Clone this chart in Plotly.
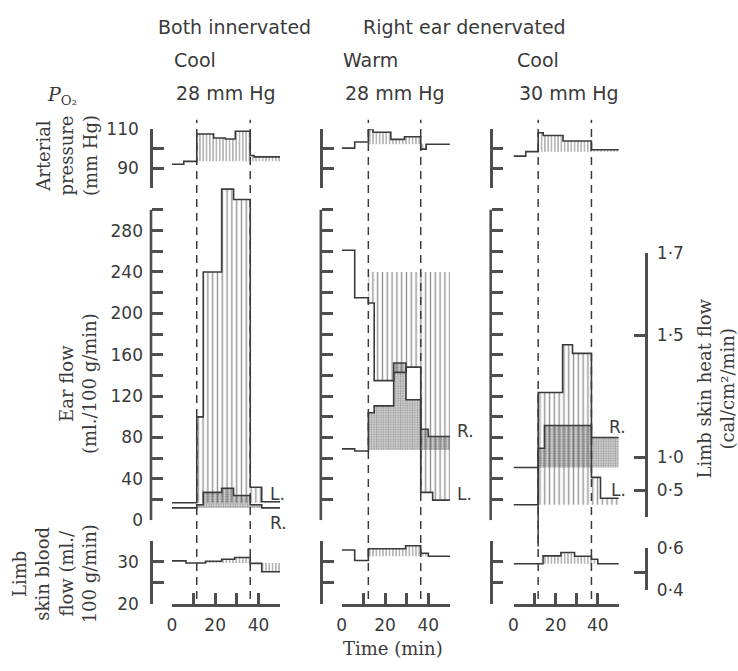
import plotly.graph_objects as go

# ---------------- data ----------------
TIME_TICKS = [0, 10, 20, 30, 40, 50]
TIME_TICK_LABELS = ['0', '', '20', '', '40', '']

ART_TICKS = [80, 90, 100, 110]
ART_TICK_LABELS = ['', '90', '', '110']
EAR_TICKS = [0, 20, 40, 60, 80, 100, 120, 140, 160, 180, 200, 220, 240, 260, 280, 300]
EAR_TICK_LABELS = ['0', '', '40', '', '80', '', '120', '', '160', '', '200', '', '240', '', '280', '']
LIMB_TICKS = [20, 25, 30, 35]
LIMB_TICK_LABELS = ['20', '', '30', '']

# right-hand heat-flow scale (non-linear), given as the equivalent values on the left scales
HEAT_TICK_LABELS = ['1·7', '1·5', '1·0', '0·5', '']
HEAT_TICK_EAR_EQUIV = [259, 179, 61, 29, 2.8]
HEAT_LIMB_TICK_LABELS = ['0·6', '', '0·4']
HEAT_LIMB_TICK_EQUIV = [33.2, 27.4, 23.2]

CONDITION_GROUPS = ['Both innervated', 'Right ear denervated']
TEMPERATURES = ['Cool', 'Warm', 'Cool']
PO2_VALUES = ['28 mm Hg', '28 mm Hg', '30 mm Hg']
HYPOXIA = [(11.5, 36.2), (12.3, 36.5), (11.7, 37.0)]

# Panel 1 : both innervated, cool
P1_ART_T = [0, 5.5, 11.5, 19.3, 24.7, 29.3, 36.2, 38, 50]
P1_ART_V = [92, 93.5, 107.6, 105.5, 105, 109, 96.5, 95.8]
P1_ART_BASE = 93.5
P1_EAR_L_T = [0, 11.5, 14.5, 23, 28.5, 36.2, 41.5, 50]
P1_EAR_L_V = [17, 100, 240, 320, 310, 32, 18]
P1_EAR_L_BASE = 17
P1_EAR_R_T = [0, 11.5, 14.5, 23, 28.5, 36.2, 41.5, 50]
P1_EAR_R_V = [12, 15, 27, 31, 24, 15, 12]
P1_EAR_R_BASE = 12
P1_LIMB_T = [0, 6.5, 15.5, 23, 29, 36.2, 41.5, 50]
P1_LIMB_V = [30.2, 29.7, 30.1, 30.6, 31.0, 29.6, 27.6]
P1_LIMB_BASE = 29.7

# Panel 2 : right ear denervated, warm
P2_ART_T = [0, 6, 12.3, 14.5, 22.7, 29, 36.5, 39, 50]
P2_ART_V = [100.3, 103.5, 110, 108.5, 104.8, 106.2, 99.8, 102.3]
P2_ART_BASE = 102.3
P2_EAR_L_T = [0, 6, 12.3, 15, 24, 29.7, 36.5, 42, 50]
P2_EAR_L_V = [261, 215, 210, 135, 143, 148, 27, 19.5]
P2_EAR_L_BASE = 240
P2_EAR_R_T = [0, 6, 12.3, 15, 24, 29.7, 36.5, 40, 50]
P2_EAR_R_V = [69, 67, 104, 110.6, 152, 116.5, 88, 81]
P2_EAR_R_BASE = 68
P2_LIMB_T = [0, 6, 12.3, 29.5, 36.5, 40, 50]
P2_LIMB_V = [32.8, 30.3, 33.1, 33.8, 32.0, 31.3]
P2_LIMB_BASE = 31.3

# Panel 3 : right ear denervated, cool
P3_ART_T = [0, 5.8, 11.7, 14.1, 23.5, 37, 50]
P3_ART_V = [96.2, 98.5, 108.2, 106.8, 104, 99.5]
P3_ART_BASE = 98.5
P3_EAR_L_T = [0, 11.7, 23.3, 28, 37, 41.3, 50]
P3_EAR_L_V = [15, 123.5, 169.7, 161.3, 41.5, 21.3]
P3_EAR_L_BASE = 15
P3_EAR_R_T = [0, 11.7, 14.7, 37, 50]
P3_EAR_R_V = [51, 69.7, 91.6, 80]
P3_EAR_R_BASE = 51
P3_LIMB_T = [0, 14, 22.5, 29, 37, 40, 50]
P3_LIMB_V = [29.5, 31.4, 32.2, 31.3, 30.6, 29.5]
P3_LIMB_BASE = 29.5

# label anchor (time, ear flow) and pixel shift for the 'L.' / 'R.' tags
PANELS = [
    dict(art=(P1_ART_T, P1_ART_V, P1_ART_BASE), L=(P1_EAR_L_T, P1_EAR_L_V, P1_EAR_L_BASE),
         R=(P1_EAR_R_T, P1_EAR_R_V, P1_EAR_R_BASE), limb=(P1_LIMB_T, P1_LIMB_V, P1_LIMB_BASE),
         lab_L=(44.5, 25, 0, 0), lab_R=(44.5, 0, 0, -3)),
    dict(art=(P2_ART_T, P2_ART_V, P2_ART_BASE), L=(P2_EAR_L_T, P2_EAR_L_V, P2_EAR_L_BASE),
         R=(P2_EAR_R_T, P2_EAR_R_V, P2_EAR_R_BASE), limb=(P2_LIMB_T, P2_LIMB_V, P2_LIMB_BASE),
         lab_L=(50, 25, 5, 0), lab_R=(50, 86, 5, 0)),
    dict(art=(P3_ART_T, P3_ART_V, P3_ART_BASE), L=(P3_EAR_L_T, P3_EAR_L_V, P3_EAR_L_BASE),
         R=(P3_EAR_R_T, P3_EAR_R_V, P3_EAR_R_BASE), limb=(P3_LIMB_T, P3_LIMB_V, P3_LIMB_BASE),
         lab_L=(45.5, 29, 0, 0), lab_R=(44.5, 90, 0, 0)),
]

# ---------------- layout geometry (pixels) ----------------
W, H = 738, 671
X_DOM_PX = [(168, 277), (339, 448), (512, 618)]
SPINE_PX = [147, 318, 489]
ART_PX = (183, 123)      # 80 .. 110
EAR_PX = (526, 174)      # 0 .. 330 (axis drawn 0..300)
EAR_RANGE = (0, 330)
LIMB_PX = (612, 547)     # 20 .. 35
HEAT_PX = (523, 250)
HEAT_LIMB_PX = (598, 555)
RIGHT_SPINE_PX = 645


def fx(p):
    return p / W


def fy(p):
    return 1 - p / H


def ear_px(v):
    return EAR_PX[0] - (v - EAR_RANGE[0]) * (EAR_PX[0] - EAR_PX[1]) / (EAR_RANGE[1] - EAR_RANGE[0])


INK = '#3a3a3a'
AXC = '#4e4e4e'
LW = 2.6
SANS = 'DejaVu Sans'
SERIF = 'DejaVu Serif'

HATCH_FINE = dict(shape='|', size=3.3, solidity=0.36, fgcolor='#333333')
HATCH_EAR = dict(shape='|', size=4.8, solidity=0.3, fgcolor='#2e2e2e')
STIPPLE = dict(shape='.', size=2.4, solidity=0.45, fgcolor='#5f5f5f', bgcolor='#d6d6d6')


def step_full(T, V):
    return list(T), list(V) + [V[-1]]


def step_from(T, V, ts):
    xs, ys = [ts], []
    start = len(V)
    for k in range(len(V)):
        if T[k] <= ts < T[k + 1]:
            ys.append(V[k])
            start = k + 1
            break
    for k in range(start, len(V)):
        xs.append(T[k])
        ys.append(V[k])
    xs.append(T[-1])
    ys.append(V[-1])
    return xs, ys


fig = go.Figure()


def yid(k):
    return 'y' if k == 1 else 'y%d' % k


def xid(k):
    return 'x' if k == 1 else 'x%d' % k


def add_fill(xa, ya, series, ts, pattern):
    T, V, base = series
    xs, ys = step_from(T, V, ts)
    fig.add_trace(go.Scatter(x=[xs[0], xs[-1]], y=[base, base], mode='lines',
                             line=dict(width=0), xaxis=xa, yaxis=ya,
                             hoverinfo='skip', showlegend=False))
    fig.add_trace(go.Scatter(x=xs, y=ys, mode='lines', line=dict(width=0, shape='hv'),
                             fill='tonexty', fillcolor='rgba(0,0,0,0)', fillpattern=pattern,
                             xaxis=xa, yaxis=ya, hoverinfo='skip', showlegend=False))


def add_line(xa, ya, series):
    T, V, base = series
    xs, ys = step_full(T, V)
    fig.add_trace(go.Scatter(x=xs, y=ys, mode='lines', line=dict(color=INK, width=1.6, shape='hv'),
                             xaxis=xa, yaxis=ya, hoverinfo='skip', showlegend=False))


layout = dict(width=W, height=H, margin=dict(l=0, r=0, t=0, b=0), autosize=False,
              paper_bgcolor='white', plot_bgcolor='rgba(0,0,0,0)', showlegend=False)

axis_common = dict(showline=True, linewidth=LW, linecolor=AXC, ticks='inside', ticklen=11,
                   tickwidth=LW, tickcolor=AXC, showgrid=False, zeroline=False,
                   tickfont=dict(family=SANS, size=17, color=INK), tickmode='array',
                   fixedrange=True)

shapes = []
annotations = []

for i, P in enumerate(PANELS):
    xk = i + 1
    xa = xid(xk)
    k_art, k_ear, k_limb = 3 * i + 1, 3 * i + 2, 3 * i + 3
    lab = (i == 0)
    layout['xaxis' if xk == 1 else 'xaxis%d' % xk] = dict(
        axis_common, domain=[fx(X_DOM_PX[i][0]), fx(X_DOM_PX[i][1])], range=[0, 50],
        anchor=yid(k_limb), tickvals=TIME_TICKS, ticktext=TIME_TICK_LABELS, ticklabelstandoff=4)
    pos = fx(SPINE_PX[i])
    layout['yaxis' if k_art == 1 else 'yaxis%d' % k_art] = dict(
        axis_common, anchor='free', position=pos, side='left',
        domain=[fy(ART_PX[0]), fy(ART_PX[1])], range=[80, 110],
        tickvals=ART_TICKS, ticktext=ART_TICK_LABELS if lab else [''] * 4, ticklabelstandoff=8)
    layout['yaxis%d' % k_ear] = dict(
        axis_common, showline=False, anchor='free', position=pos, side='left',
        domain=[fy(EAR_PX[0]), fy(EAR_PX[1])], range=list(EAR_RANGE),
        tickvals=EAR_TICKS, ticktext=EAR_TICK_LABELS if lab else [''] * len(EAR_TICKS),
        ticklabelstandoff=8)
    layout['yaxis%d' % k_limb] = dict(
        axis_common, anchor='free', position=pos, side='left',
        domain=[fy(LIMB_PX[0]), fy(LIMB_PX[1])], range=[20, 35],
        tickvals=LIMB_TICKS, ticktext=LIMB_TICK_LABELS if lab else [''] * 4, ticklabelstandoff=8)
    # ear-flow spine (axis line only over 0..300)
    shapes.append(dict(type='line', xref='paper', x0=pos, x1=pos, yref=yid(k_ear),
                       y0=EAR_TICKS[0], y1=EAR_TICKS[-1], line=dict(color=AXC, width=LW)))

    ts, te = HYPOXIA[i]
    # arterial pressure
    add_fill(xa, yid(k_art), P['art'], ts, HATCH_FINE)
    add_line(xa, yid(k_art), P['art'])
    # ear flow
    add_fill(xa, yid(k_ear), P['R'], ts, STIPPLE)
    add_fill(xa, yid(k_ear), P['L'], ts, HATCH_EAR)
    add_line(xa, yid(k_ear), P['L'])
    add_line(xa, yid(k_ear), P['R'])
    # limb skin blood flow
    add_fill(xa, yid(k_limb), P['limb'], ts, HATCH_FINE)
    add_line(xa, yid(k_limb), P['limb'])

    for t in (ts, te):
        shapes.append(dict(type='line', xref=xa, x0=t, x1=t, yref='paper',
                           y0=fy(607), y1=fy(113), line=dict(color=INK, width=1.5, dash='8px,6px')))

    for name, key in (('L.', 'lab_L'), ('R.', 'lab_R')):
        tx, ty, dx, dy = P[key]
        annotations.append(dict(text=name, xref=xa, yref=yid(k_ear), x=tx, y=ty,
                                xshift=dx, yshift=dy,
                                xanchor='left', yanchor='middle', showarrow=False,
                                font=dict(family=SANS, size=17, color=INK)))

# panel 3: onset line drawn solid from the right-ear control level down to the limb panel
ts3 = HYPOXIA[2][0]
shapes.append(dict(type='line', xref='x3', x0=ts3, x1=ts3, yref='paper',
                   y0=fy(ear_px(P3_EAR_R_BASE)), y1=fy(LIMB_PX[1] + 6),
                   line=dict(color=INK, width=1.5)))

# right-hand heat flow axes (panel 3)
layout['yaxis10'] = dict(axis_common, anchor='free', position=fx(RIGHT_SPINE_PX), side='right',
                         domain=[fy(HEAT_PX[0]), fy(HEAT_PX[1])],
                         range=[HEAT_TICK_EAR_EQUIV[-1], HEAT_TICK_EAR_EQUIV[0]],
                         tickvals=HEAT_TICK_EAR_EQUIV, ticktext=HEAT_TICK_LABELS, ticklabelstandoff=6)
layout['yaxis11'] = dict(axis_common, anchor='free', position=fx(RIGHT_SPINE_PX), side='right',
                         domain=[fy(HEAT_LIMB_PX[0]), fy(HEAT_LIMB_PX[1])],
                         range=[HEAT_LIMB_TICK_EQUIV[-1], HEAT_LIMB_TICK_EQUIV[0]],
                         tickvals=HEAT_LIMB_TICK_EQUIV, ticktext=HEAT_LIMB_TICK_LABELS,
                         ticklabelstandoff=6)
for ya, yv in (('y10', 100), ('y11', 28)):
    fig.add_trace(go.Scatter(x=[25], y=[yv], mode='markers', marker=dict(opacity=0),
                             xaxis='x3', yaxis=ya, hoverinfo='skip', showlegend=False))

# headers
hdr_font = dict(family=SANS, size=19, color=INK)
hdr = [
    dict(text=CONDITION_GROUPS[0], x=fx(231), y=fy(18), xanchor='center'),
    dict(text=CONDITION_GROUPS[1], x=fx(463), y=fy(18), xanchor='center'),
]
for i, x0 in enumerate((168, 338, 513)):
    hdr.append(dict(text=TEMPERATURES[i], x=fx(x0), y=fy(52), xanchor='left'))
    hdr.append(dict(text=PO2_VALUES[i], x=fx(x0 + 2), y=fy(86), xanchor='left'))
for a in hdr:
    a.update(xref='paper', yref='paper', yanchor='middle', showarrow=False, font=hdr_font)
annotations += hdr

serif = dict(family=SERIF, size=18, color=INK)
lbl = [
    dict(text='<i>P</i><sub>O₂</sub>', x=fx(40), y=fy(88), xanchor='left',
         font=dict(family=SERIF, size=19, color=INK)),
    dict(text='Arterial<br>pressure<br>(mm Hg)', x=fx(62), y=fy(150), textangle=-90, font=serif),
    dict(text='Ear flow<br>(ml./100 g/min)', x=fx(73), y=fy(385), textangle=-90, font=serif),
    dict(text='Limb<br>skin blood<br>flow (ml./<br>100 g/min)', x=fx(50), y=fy(581),
         textangle=-90, font=serif),
    dict(text='Time (min)', x=fx(391), y=fy(658), font=serif),
    dict(text='Limb skin heat flow<br>(cal/cm²/min)', x=fx(716), y=fy(390), textangle=-90,
         font=serif),
]
for a in lbl:
    a.update(xref='paper', yref='paper', yanchor='middle', showarrow=False)
    a.setdefault('xanchor', 'center')
annotations += lbl

layout['shapes'] = shapes
layout['annotations'] = annotations
fig.update_layout(**layout)
fig.write_html('out.html')
